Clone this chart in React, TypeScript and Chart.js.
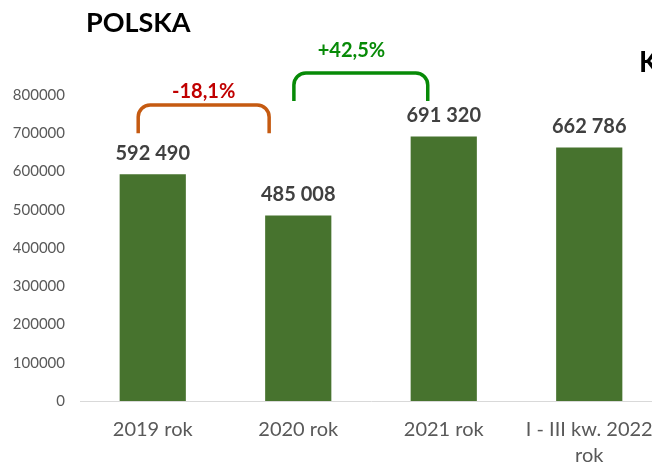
import React, { useEffect, useRef } from "react";
import { Chart, registerables } from "chart.js";

Chart.register(...registerables);

const categories: (string | string[])[] = ["2019 rok", "2020 rok", "2021 rok", ["I - III kw. 2022", "rok"]];
const values: number[] = [592490, 485008, 691320, 662786];
const valueLabels: string[] = ["592 490", "485 008", "691 320", "662 786"];
const yTicks: number[] = [0, 100000, 200000, 300000, 400000, 500000, 600000, 700000, 800000];

// change annotations (bracket from/to in category units, heights in axis values)
const changeLabels: string[] = ["-18,1%", "+42,5%"];
const changeColors: string[] = ["#C00000", "#078A07"];
const bracketColors: string[] = ["#C55A11", "#078A07"];
const bracketFrom: number[] = [-0.1, 0.97];
const bracketTo: number[] = [0.8, 1.89];
const bracketTop: number[] = [774000, 857500];
const bracketBottom: number[] = [700000, 784000];
const labelAt: number[] = [0.35, 1.366];
const labelHeight: number[] = [810000, 915000];

const BAR_COLOR = "#47732E";

const overlayPlugin = {
  id: "overlay",
  afterDatasetsDraw(chart: any) {
    const ctx = chart.ctx;
    const xs = chart.scales.x;
    const ys = chart.scales.y;
    const meta = chart.getDatasetMeta(0);
    ctx.save();
    ctx.font = "bold 20px Lato";
    ctx.fillStyle = "#404040";
    ctx.textAlign = "center";
    ctx.textBaseline = "middle";
    meta.data.forEach((bar: any, i: number) => {
      ctx.fillText(valueLabels[i], bar.x, bar.y - 21);
    });
    const step = xs.getPixelForValue(1) - xs.getPixelForValue(0);
    const posX = (v: number) => xs.getPixelForValue(0) + v * step;
    changeLabels.forEach((lbl, k) => {
      const x1 = posX(bracketFrom[k]);
      const x2 = posX(bracketTo[k]);
      const yt = ys.getPixelForValue(bracketTop[k]);
      const yb = ys.getPixelForValue(bracketBottom[k]);
      const r = 12;
      ctx.beginPath();
      ctx.strokeStyle = bracketColors[k];
      ctx.lineWidth = 3.5;
      ctx.moveTo(x1, yb);
      ctx.arcTo(x1, yt, x1 + r, yt, r);
      ctx.arcTo(x2, yt, x2, yt + r, r);
      ctx.lineTo(x2, yb);
      ctx.stroke();
      ctx.fillStyle = changeColors[k];
      ctx.font = "bold 20px Lato";
      ctx.fillText(lbl, posX(labelAt[k]), ys.getPixelForValue(labelHeight[k]));
    });
    ctx.restore();
  },
};

export default function App() {
  const ref = useRef<HTMLCanvasElement | null>(null);
  useEffect(() => {
    if (!ref.current) return;
    const chart = new Chart(ref.current, {
      type: "bar",
      data: {
        labels: categories as any,
        datasets: [
          {
            data: values,
            backgroundColor: BAR_COLOR,
            categoryPercentage: 1,
            barPercentage: 0.455,
          },
        ],
      },
      options: {
        animation: false,
        responsive: false,
        devicePixelRatio: 1,
        layout: { padding: { top: 95, left: 0, right: 0, bottom: 0 } },
        plugins: { legend: { display: false }, tooltip: { enabled: false } },
        scales: {
          x: {
            grid: { display: false, drawTicks: false },
            border: { display: true, color: "#D9D9D9", width: 1 },
            ticks: {
              color: "#595959",
              font: { family: "Lato", size: 20, lineHeight: 1.3 },
              padding: 16,
              autoSkip: false,
              maxRotation: 0,
            },
            afterFit(scale: any) {
              scale.height = 64;
              scale.paddingLeft = 0;
              scale.paddingRight = 0;
            },
          },
          y: {
            min: 0,
            max: 800000,
            grid: { display: false, drawTicks: false },
            border: { display: false },
            afterBuildTicks(scale: any) {
              scale.ticks = yTicks.map((v) => ({ value: v }));
            },
            ticks: {
              color: "#595959",
              font: { family: "Lato", size: 15 },
              padding: 15,
              callback: (v: any) => String(v),
            },
            afterFit(scale: any) {
              scale.width = 80;
            },
          },
        },
      },
      plugins: [overlayPlugin],
    });
    return () => chart.destroy();
  }, []);

  return (
    <div
      style={{
        position: "fixed",
        left: 0,
        top: 0,
        width: 652,
        height: 465,
        overflow: "hidden",
        background: "#fff",
      }}
    >
      <canvas ref={ref} width={662} height={465} style={{ display: "block" }} />
      <div
        style={{
          position: "absolute",
          left: 86,
          top: 8,
          font: "bold 27px Lato",
          lineHeight: "28px",
          color: "#000",
        }}
      >
        POLSKA
      </div>
      <div
        style={{
          position: "absolute",
          left: 639,
          top: 47,
          font: "bold 28px Lato",
          lineHeight: "28px",
          color: "#000",
        }}
      >
        K
      </div>
    </div>
  );
}
